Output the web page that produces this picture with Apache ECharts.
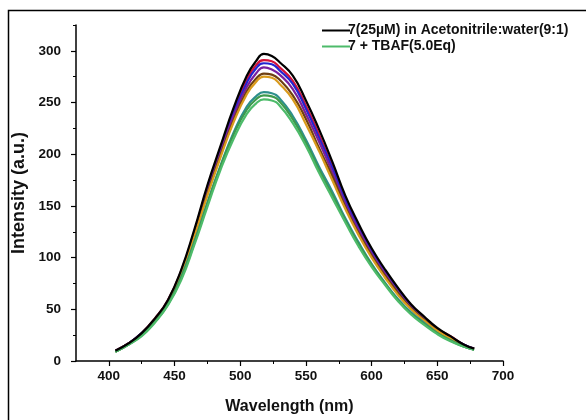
<!DOCTYPE html>
<html>
<head>
<meta charset="utf-8">
<script src="https://cdn.jsdelivr.net/npm/echarts@6/dist/echarts.min.js"></script>
<style>html,body{margin:0;padding:0;background:#fff;overflow:hidden}#c{width:586px;height:420px}</style>
</head>
<body>
<div id="c"></div>
<script>
var wavelengths = [405,415,425,435,445,455,465,475,485,495,505,512,518,524,530,540,550,560,570,580,590,600,610,620,630,640,650,660,670,678];
var xMajorTicks = [400,450,500,550,600,650,700];
var xMinorTicks = [425,475,525,575,625,675];
var yMajorTicks = [0,50,100,150,200,250,300];
var yMinorTicks = [25,75,125,175,225,275,325];

var black7   = [10,17,27,41,59,88,127,170,208,245,276,290,297,295,289,276,252,224,193,160,133,109,89,71,55,43,32,24,16,12];
var redS     = [10,17,27,41,59,87,125,168,206,242,272,286,291,290,284,271,247,219,189,157,131,107,87,70,54,42,31,24,16,12];
var blueS    = [10,17,27,40,58,86,124,166,204,240,269,283,288,287,281,268,244,216,187,155,129,106,86,69,53,42,31,23,16,12];
var purpleS  = [10,17,26,40,58,85,123,164,202,237,265,278,284,282,277,263,239,212,183,152,127,104,85,67,52,41,30,23,15,12];
var brownS   = [10,17,26,40,57,84,121,162,199,233,261,273,278,277,272,257,234,206,179,149,124,102,83,66,51,40,30,22,15,12];
var orangeS  = [9,16,26,39,57,84,120,160,197,231,258,270,275,274,268,253,229,203,175,147,122,100,81,64,50,39,29,22,15,11];
var tealS    = [9,16,25,38,55,81,115,153,189,221,246,256,260,259,254,237,214,188,164,138,115,94,76,60,47,37,27,20,14,11];
var dkGreenS = [9,16,25,38,55,80,114,152,188,219,243,253,257,256,251,234,211,185,161,136,113,93,75,59,46,36,27,20,14,11];
var tbaf     = [9,16,24,37,54,78,112,149,185,215,239,249,253,252,247,230,208,182,158,134,111,91,74,58,45,35,26,19,14,11];

var legendNames = ['7(25\u00b5M) in Acetonitrile:water(9:1)', '7 + TBAF(5.0Eq)'];

var seriesDefs = [
  {name:'s2', data:redS, color:'#d4123a'},
  {name:'s3', data:blueS, color:'#2424d0'},
  {name:'s4', data:purpleS, color:'#7a1f9e'},
  {name:'s5', data:brownS, color:'#6e3f12'},
  {name:'s6', data:orangeS, color:'#d99a1c'},
  {name:'s7', data:tealS, color:'#2e8f8c'},
  {name:'s8', data:dkGreenS, color:'#3d9a4c'},
  {name:legendNames[1], data:tbaf, color:'#4dbb6a'},
  {name:legendNames[0], data:black7, color:'#000000'}
];

function pairs(arr){ return wavelengths.map(function(w,i){ return [w, arr[i]]; }); }

var series = seriesDefs.map(function(d){
  return {
    name: d.name, type:'line', smooth:true, symbol:'none',
    data: pairs(d.data), xAxisIndex:0, yAxisIndex:0,
    lineStyle:{color:d.color, width:2.2}, itemStyle:{color:d.color},
    animation:false
  };
});

var lab = {color:'#111', fontFamily:'Liberation Sans, Arial', fontWeight:'bold', fontSize:13.5};
var ttl = {color:'#111', fontFamily:'Liberation Sans, Arial', fontWeight:'bold', fontSize:16};
var chart = echarts.init(document.getElementById('c'));
chart.setOption({
  animation:false,
  backgroundColor:'#fff',
  grid:{left:76, top:25, width:427, height:338, containLabel:false},
  legend:{
    orient:'vertical', left:317, top:18, itemGap:1, itemWidth:28, itemHeight:2, icon:'rect',
    data:legendNames,
    textStyle:{color:'#111', fontFamily:'Liberation Sans, Arial', fontWeight:'bold', fontSize:14, padding:[0,0,0,-7], lineHeight:15}
  },
  xAxis:[{
    type:'value', min:375, max:700,
    name:'Wavelength (nm)', nameLocation:'middle', nameGap:38, nameTextStyle:ttl,
    axisLine:{show:true, onZero:false, lineStyle:{color:'#000', width:1.5}},
    axisTick:{show:true, customValues:xMajorTicks, length:5, lineStyle:{color:'#000', width:1.2}},
    axisLabel:Object.assign({customValues:xMajorTicks, margin:8}, lab),
    splitLine:{show:false}
  },{
    type:'value', min:375, max:700, position:'bottom', gridIndex:0,
    axisLine:{show:false},
    axisTick:{show:true, customValues:xMinorTicks, length:3, lineStyle:{color:'#000', width:1}},
    axisLabel:{show:false}, splitLine:{show:false}
  }],
  yAxis:[{
    type:'value', min:0, max:325,
    name:'Intensity (a.u.)', nameLocation:'middle', nameGap:40,
    nameTextStyle:Object.assign({}, ttl, {fontSize:18}),
    axisLine:{show:true, onZero:false, lineStyle:{color:'#000', width:1.5}},
    axisTick:{show:true, customValues:yMajorTicks, length:5, lineStyle:{color:'#000', width:1.2}},
    axisLabel:Object.assign({customValues:yMajorTicks, margin:15}, lab),
    splitLine:{show:false}
  },{
    type:'value', min:0, max:325, position:'left', gridIndex:0,
    axisLine:{show:false},
    axisTick:{show:true, customValues:yMinorTicks, length:3, lineStyle:{color:'#000', width:1}},
    axisLabel:{show:false}, splitLine:{show:false}
  }],
  graphic:[{
    type:'polyline', silent:true, z:-1,
    shape:{points:[[8.5, 440],[8.5, 10.5],[620, 10.5]]},
    style:{fill:null, stroke:'#000', lineWidth:1.5}
  }],
  series: series
});
</script>
</body>
</html>
